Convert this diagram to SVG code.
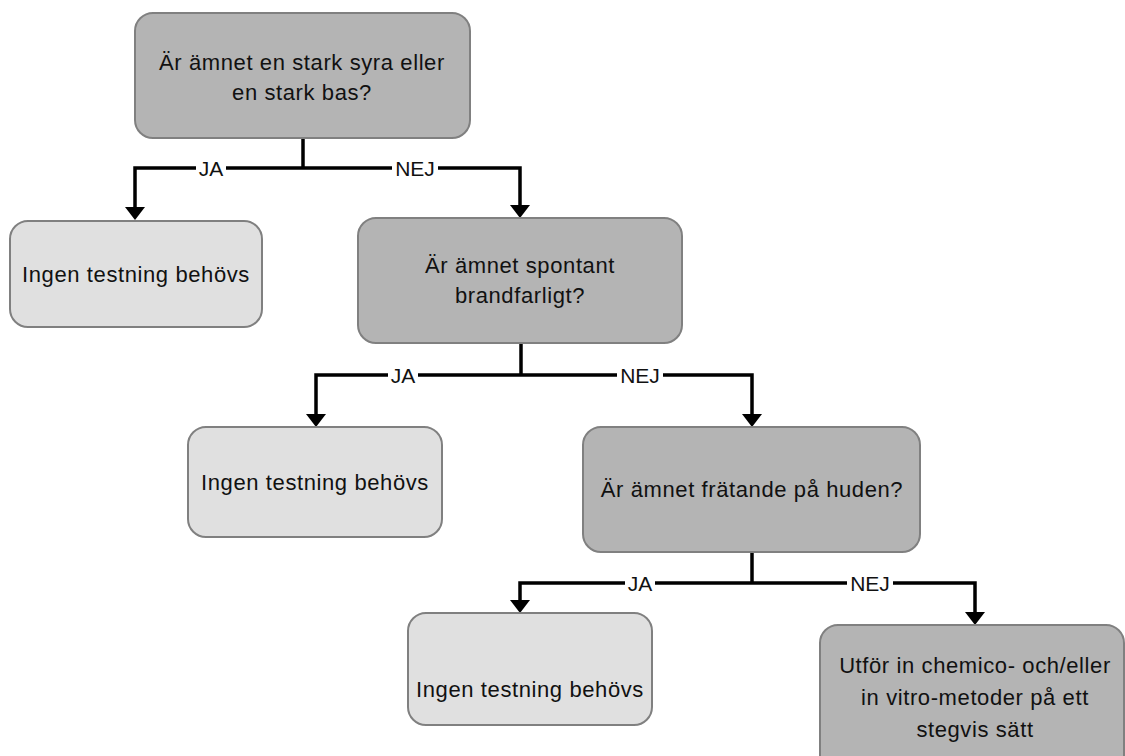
<svg xmlns="http://www.w3.org/2000/svg" width="1125" height="756" viewBox="0 0 1125 756">
  <defs>
    <!-- filled triangular head; base sits at the line end, tip 13px beyond -->
    <marker id="arrow" markerWidth="13" markerHeight="20" refX="0" refY="10" orient="auto" markerUnits="userSpaceOnUse">
      <path d="M0,0 L13,10 L0,20 Z" fill="#000"/>
    </marker>
    <style>
      .q { fill: #b4b4b4; stroke: #808080; stroke-width: 2; }
      .end { fill: #e0e0e0; stroke: #808080; stroke-width: 2; }
      .t { font-family: "Liberation Sans", Arial, sans-serif; font-size: 22px; letter-spacing: 0.6px; fill: #111; text-anchor: middle; }
      .lbl { font-family: "Liberation Sans", Arial, sans-serif; font-size: 21px; fill: #111; text-anchor: middle; }
      .conn { fill: none; stroke: #000; stroke-width: 3.5; }
      .gap { fill: #fff; }
    </style>
  </defs>
  <rect width="1125" height="756" fill="#fff"/>

  <g id="connectors">
    <!-- question 1 -->
    <path class="conn" d="M303,138 V168"/>
    <path class="conn" d="M303,168 H135 V207" marker-end="url(#arrow)"/>
    <path class="conn" d="M303,168 H520 V205" marker-end="url(#arrow)"/>
    <!-- question 2 -->
    <path class="conn" d="M521,343 V375"/>
    <path class="conn" d="M521,375 H316 V414" marker-end="url(#arrow)"/>
    <path class="conn" d="M521,375 H752 V414" marker-end="url(#arrow)"/>
    <!-- question 3 -->
    <path class="conn" d="M752,552 V583"/>
    <path class="conn" d="M752,583 H520 V600" marker-end="url(#arrow)"/>
    <path class="conn" d="M752,583 H975 V612" marker-end="url(#arrow)"/>
    <!-- branch labels -->
    <rect class="gap" x="196" y="158" width="30" height="20"/>
    <text class="lbl" x="211" y="175.5">JA</text>
    <rect class="gap" x="392" y="158" width="46" height="20"/>
    <text class="lbl" x="415" y="175.5">NEJ</text>
    <rect class="gap" x="388" y="365" width="30" height="20"/>
    <text class="lbl" x="403" y="382.5">JA</text>
    <rect class="gap" x="617" y="365" width="46" height="20"/>
    <text class="lbl" x="640" y="382.5">NEJ</text>
    <rect class="gap" x="625" y="573" width="30" height="20"/>
    <text class="lbl" x="640" y="590.5">JA</text>
    <rect class="gap" x="847" y="573" width="46" height="20"/>
    <text class="lbl" x="870" y="590.5">NEJ</text>
  </g>

  <g id="q1">
    <rect class="q" x="135" y="13" width="335" height="125" rx="18"/>
    <text class="t" x="302" y="70">Är ämnet en stark syra eller</text>
    <text class="t" x="302" y="100">en stark bas?</text>
  </g>

  <g id="end1">
    <rect class="end" x="10" y="221" width="252" height="106" rx="18"/>
    <text class="t" x="136" y="282">Ingen testning behövs</text>
  </g>

  <g id="q2">
    <rect class="q" x="358" y="218" width="324" height="125" rx="18"/>
    <text class="t" x="520" y="273">Är ämnet spontant</text>
    <text class="t" x="520" y="303">brandfarligt?</text>
  </g>

  <g id="end2">
    <rect class="end" x="188" y="427" width="254" height="110" rx="18"/>
    <text class="t" x="315" y="490">Ingen testning behövs</text>
  </g>

  <g id="q3">
    <rect class="q" x="583" y="427" width="337" height="125" rx="18"/>
    <text class="t" x="752" y="497">Är ämnet frätande på huden?</text>
  </g>

  <g id="end3">
    <rect class="end" x="408" y="613" width="244" height="112" rx="18"/>
    <text class="t" x="530" y="697">Ingen testning behövs</text>
  </g>

  <g id="action">
    <rect class="q" x="820" y="625" width="304" height="150" rx="18"/>
    <text class="t" x="975" y="673">Utför in chemico- och/eller</text>
    <text class="t" x="975" y="705">in vitro-metoder på ett</text>
    <text class="t" x="975" y="737">stegvis sätt</text>
  </g>
</svg>
